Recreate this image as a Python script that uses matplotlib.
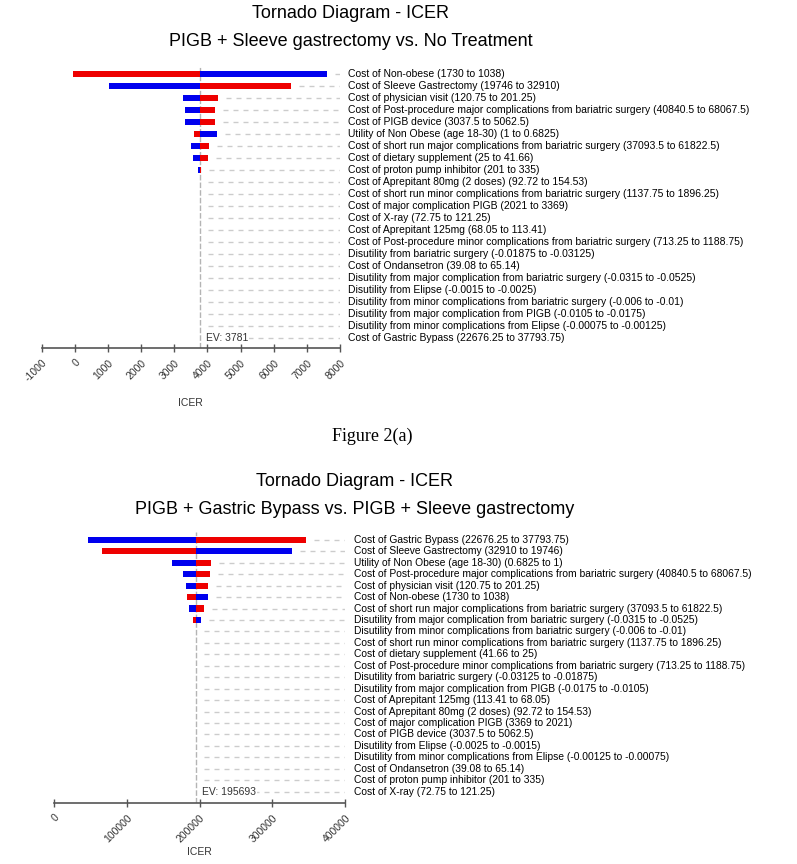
import numpy as np
import matplotlib
matplotlib.use('Agg')
import matplotlib.pyplot as plt

plt.rcParams['font.family'] = ['Liberation Sans', 'DejaVu Sans']

# --- Figure 2(a): PIGB + Sleeve gastrectomy vs. No Treatment
labels_a = [
    'Cost of Non-obese (1730 to 1038)',
    'Cost of Sleeve Gastrectomy (19746 to 32910)',
    'Cost of physician visit (120.75 to 201.25)',
    'Cost of Post-procedure major complications from bariatric surgery (40840.5 to 68067.5)',
    'Cost of PIGB device (3037.5 to 5062.5)',
    'Utility of Non Obese (age 18-30) (1 to 0.6825)',
    'Cost of short run major complications from bariatric surgery (37093.5 to 61822.5)',
    'Cost of dietary supplement (25 to 41.66)',
    'Cost of proton pump inhibitor (201 to 335)',
    'Cost of Aprepitant 80mg (2 doses) (92.72 to 154.53)',
    'Cost of short run minor complications from bariatric surgery (1137.75 to 1896.25)',
    'Cost of major complication PIGB (2021 to 3369)',
    'Cost of X-ray (72.75 to 121.25)',
    'Cost of Aprepitant 125mg (68.05 to 113.41)',
    'Cost of Post-procedure minor complications from bariatric surgery (713.25 to 1188.75)',
    'Disutility from bariatric surgery (-0.01875 to -0.03125)',
    'Cost of Ondansetron (39.08 to 65.14)',
    'Disutility from major complication from bariatric surgery (-0.0315 to -0.0525)',
    'Disutility from Elipse (-0.0015 to -0.0025)',
    'Disutility from minor complications from bariatric surgery (-0.006 to -0.01)',
    'Disutility from major complication from PIGB (-0.0105 to -0.0175)',
    'Disutility from minor complications from Elipse (-0.00075 to -0.00125)',
    'Cost of Gastric Bypass (22676.25 to 37793.75)',
]
ev_a = 3781
blue_a = [7610, 1033, 3260, 3320, 3320, 4296, 3500, 3580, 3725] + [3781] * 14
red_a = [-63, 6511, 4305, 4236, 4236, 3601, 4045, 4003, 3815] + [3781] * 14
ticks_a = [-1000, 0, 1000, 2000, 3000, 4000, 5000, 6000, 7000, 8000]

# --- Figure 2(b): PIGB + Gastric Bypass vs. PIGB + Sleeve gastrectomy
labels_b = [
    'Cost of Gastric Bypass (22676.25 to 37793.75)',
    'Cost of Sleeve Gastrectomy (32910 to 19746)',
    'Utility of Non Obese (age 18-30) (0.6825 to 1)',
    'Cost of Post-procedure major complications from bariatric surgery (40840.5 to 68067.5)',
    'Cost of physician visit (120.75 to 201.25)',
    'Cost of Non-obese (1730 to 1038)',
    'Cost of short run major complications from bariatric surgery (37093.5 to 61822.5)',
    'Disutility from major complication from bariatric surgery (-0.0315 to -0.0525)',
    'Disutility from minor complications from bariatric surgery (-0.006 to -0.01)',
    'Cost of short run minor complications from bariatric surgery (1137.75 to 1896.25)',
    'Cost of dietary supplement (41.66 to 25)',
    'Cost of Post-procedure minor complications from bariatric surgery (713.25 to 1188.75)',
    'Disutility from bariatric surgery (-0.03125 to -0.01875)',
    'Disutility from major complication from PIGB (-0.0175 to -0.0105)',
    'Cost of Aprepitant 125mg (113.41 to 68.05)',
    'Cost of Aprepitant 80mg (2 doses) (92.72 to 154.53)',
    'Cost of major complication PIGB (3369 to 2021)',
    'Cost of PIGB device (3037.5 to 5062.5)',
    'Disutility from Elipse (-0.0025 to -0.0015)',
    'Disutility from minor complications from Elipse (-0.00125 to -0.00075)',
    'Cost of Ondansetron (39.08 to 65.14)',
    'Cost of proton pump inhibitor (201 to 335)',
    'Cost of X-ray (72.75 to 121.25)',
]
ev_b = 195693
blue_b = [47200, 326700, 161700, 177800, 181400, 211200, 186000, 201600, 195693, 194600] + [195693] * 13
red_b = [346400, 66400, 215800, 214900, 212100, 182300, 206200, 191500, 194600, 195693] + [195693] * 13
ticks_b = [0, 100000, 200000, 300000, 400000]


def tornado(ax, labels, blue, red, ev, ticks, label_pad, label_size, bottom_pad, xlab_y):
    n = len(labels)
    y = np.arange(n)
    lo, hi = ticks[0], ticks[-1]
    gap = 0.027 * (hi - lo)

    ax.barh(y, np.array(red) - ev, left=ev, height=0.54, color='#ee0000', lw=0, zorder=3)
    ax.barh(y, np.array(blue) - ev, left=ev, height=0.54, color='#0000ee', lw=0, zorder=3)

    for i in range(n):
        start = max(blue[i], red[i], ev) + gap
        ax.plot([start, hi], [i, i], color='#cccccc', lw=1, dashes=(3.6, 3.6), zorder=1)
        ax.annotate(labels[i], xy=(1, i), xycoords=('axes fraction', 'data'),
                    xytext=(label_pad, 0), textcoords='offset points',
                    va='center', ha='left', fontsize=label_size, annotation_clip=False)

    ax.axvline(ev, color='#b4b4b4', lw=1, dashes=(4, 1.5), zorder=2)
    ax.annotate('EV: %d' % ev, xy=(ev, n - 1), xytext=(4, 0), textcoords='offset points',
                va='center', ha='left', fontsize=7.5, color='#333333', zorder=4,
                bbox=dict(facecolor='white', edgecolor='none', pad=0.6))

    ax.set_xlim(lo, hi)
    ax.set_ylim(n - 1 + bottom_pad, -0.7)
    ax.set_yticks([])
    for s in ['top', 'right', 'left']:
        ax.spines[s].set_visible(False)
    ax.spines['bottom'].set_color('#555555')
    ax.spines['bottom'].set_linewidth(1.2)
    ax.set_xticks(ticks)
    ax.set_xticklabels([str(t) for t in ticks], rotation=45, ha='right',
                       rotation_mode='anchor')
    ax.tick_params(axis='x', direction='inout', length=6, width=1, color='#555555',
                   labelsize=7.5, labelcolor='#333333', pad=4)
    ax.text(0.5, xlab_y, 'ICER', transform=ax.transAxes, ha='center', va='center',
            fontsize=7.5, color='#333333')


fig = plt.figure(figsize=(7.97, 8.64), dpi=100)

ax1 = fig.add_axes([0.0523, 0.5972, 0.3743, 0.3269])
tornado(ax1, labels_a, blue_a, red_a, ev_a, ticks_a, 6, 7.5, 0.83, -0.195)

ax2 = fig.add_axes([0.0678, 0.0706, 0.3651, 0.3137])
tornado(ax2, labels_b, blue_b, red_b, ev_b, ticks_b, 6.5, 7.4, 1.0, -0.181)

fig.text(0.440, 1 - 14 / 864, 'Tornado Diagram - ICER', ha='center', va='center', fontsize=13)
fig.text(0.440, 1 - 41 / 864, 'PIGB + Sleeve gastrectomy vs. No Treatment',
         ha='center', va='center', fontsize=13)
fig.text(0.4667, 1 - 436 / 864, 'Figure 2(a)', ha='center', va='center', fontsize=13,
         family=['Liberation Serif', 'DejaVu Serif'])
fig.text(0.4454, 1 - 482 / 864, 'Tornado Diagram - ICER', ha='center', va='center', fontsize=13)
fig.text(0.4454, 1 - 509 / 864, 'PIGB + Gastric Bypass vs. PIGB + Sleeve gastrectomy',
         ha='center', va='center', fontsize=13)

fig.savefig('out.png', dpi=100)
